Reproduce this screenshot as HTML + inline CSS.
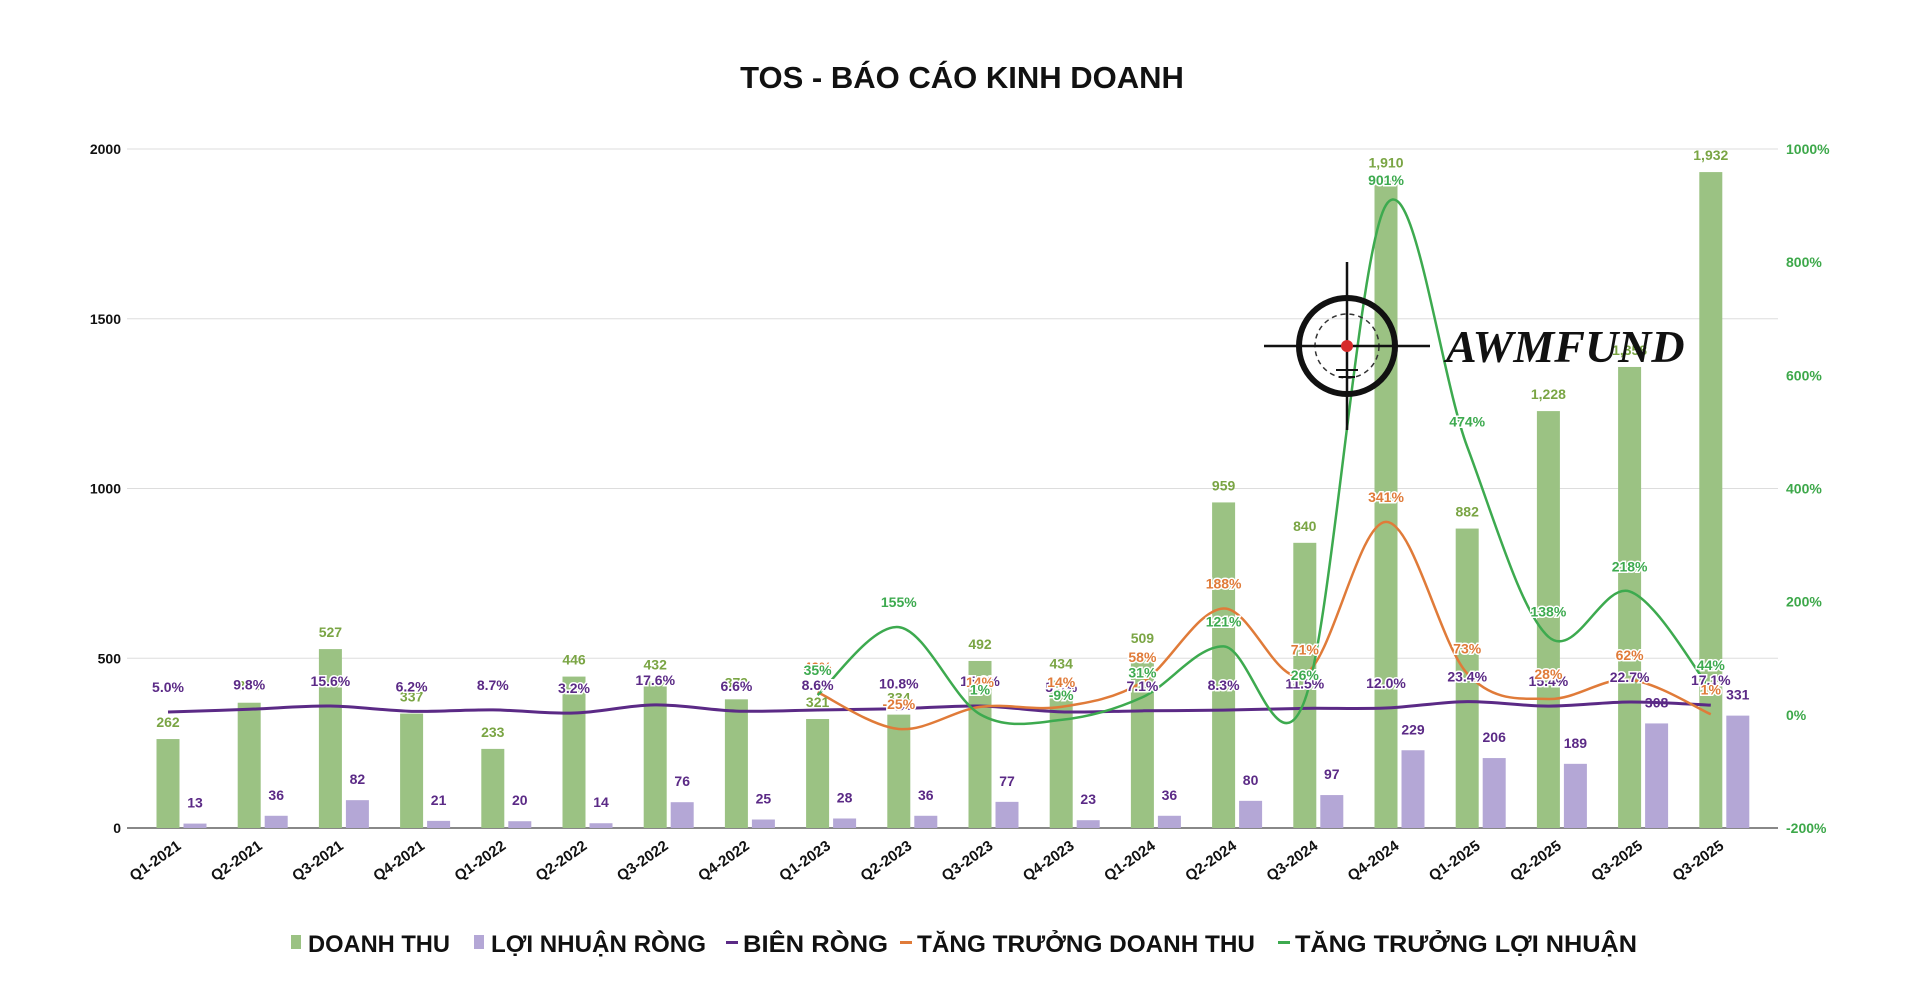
<!DOCTYPE html>
<html><head><meta charset="utf-8">
<style>
html,body{margin:0;padding:0;background:#fff;}
body{width:1920px;height:997px;overflow:hidden;font-family:"Liberation Sans","DejaVu Sans",sans-serif;}
svg text{font-family:"Liberation Sans","DejaVu Sans",sans-serif;font-weight:bold;}
</style></head>
<body>
<svg id="chart" width="1920" height="997" viewBox="0 0 1920 997" xmlns="http://www.w3.org/2000/svg">
<text x="962" y="88" text-anchor="middle" font-size="31" fill="#111">TOS - BÁO CÁO KINH DOANH</text>
<g id="grid"></g>
<g id="bars"></g>
<g id="lines"></g>
<g id="labels"></g>
<g id="axes"></g>
<g>
  <circle cx="1347" cy="346" r="48" fill="none" stroke="#111" stroke-width="6"/>
  <circle cx="1347" cy="346" r="32" fill="none" stroke="#333" stroke-width="1.5" stroke-dasharray="5,4"/>
  <line x1="1264" y1="346" x2="1430" y2="346" stroke="#111" stroke-width="2.5"/>
  <line x1="1347" y1="262" x2="1347" y2="430" stroke="#111" stroke-width="2.5"/>
  <circle cx="1347" cy="346" r="6" fill="#d62b2b"/>
  <line x1="1336" y1="370" x2="1358" y2="370" stroke="#111" stroke-width="2"/>
  <line x1="1339" y1="377" x2="1355" y2="377" stroke="#111" stroke-width="2"/>
  <text x="1446" y="362" font-style="italic" font-size="46" fill="#111" style="font-family:'Liberation Serif',serif">AWMFUND</text>
</g>
<g id="legend"></g>
</svg>
<script>
const categories=["Q1-2021","Q2-2021","Q3-2021","Q4-2021","Q1-2022","Q2-2022","Q3-2022","Q4-2022","Q1-2023","Q2-2023","Q3-2023","Q4-2023","Q1-2024","Q2-2024","Q3-2024","Q4-2024","Q1-2025","Q2-2025","Q3-2025","Q3-2025"];
const revenue=[262,369,527,337,233,446,432,379,321,334,492,434,509,959,840,1910,882,1228,1358,1932];
const profit=[13,36,82,21,20,14,76,25,28,36,77,23,36,80,97,229,206,189,308,331];
const margin=[5.0,9.8,15.6,6.2,8.7,3.2,17.6,6.6,8.6,10.8,15.6,5.3,7.1,8.3,11.5,12.0,23.4,15.4,22.7,17.1];
const revGrowth=[null,null,null,null,null,null,null,null,40,-25,14,14,58,188,71,341,73,28,62,1];
const profGrowth=[null,null,null,null,null,null,null,null,35,155,1,-9,31,121,26,901,474,138,218,44];
const leftTicks=[0,500,1000,1500,2000];
const rightTicks=[-200,0,200,400,600,800,1000];

const NS="http://www.w3.org/2000/svg";
const X0=168,STEP=81.2,YL0=828,YL1=149;
const xAt=i=>X0+i*STEP;
const yL=v=>YL0-(v/2000)*(YL0-YL1);
const yR=v=>YL0-((v+200)/1200)*(YL0-YL1);
function mk(tag,attrs,parent,txt){const e=document.createElementNS(NS,tag);for(const k in attrs)e.setAttribute(k,attrs[k]);if(txt!==undefined)e.textContent=txt;parent.appendChild(e);return e;}
const G=id=>document.getElementById(id);

leftTicks.forEach(t=>{
  const l=mk('line',{x1:127,x2:1778,y1:yL(t),y2:yL(t),stroke:t===0?'#888':'#ddd','stroke-width':t===0?2:1},G('grid'));
  
  
  const tx=mk('text',{x:121,y:yL(t)+5,'text-anchor':'end','font-size':14,fill:'#111'},G('axes'),String(t));
  
  
});
rightTicks.forEach(t=>{
  const tx=mk('text',{x:1786,y:yR(t)+5,'font-size':14,fill:'#3da84a'},G('axes'),t+'%');
  
  
});
categories.forEach((c,i)=>{
  const x=xAt(i)+14,y=848;
  const tx=mk('text',{x:x,y:y,'text-anchor':'end','font-size':15,fill:'#111',transform:`rotate(-35 ${x} ${y})`},G('axes'),c);
  
  
});
const BW=23;
revenue.forEach((v,i)=>{
  const b=mk('rect',{x:xAt(i)-BW/2,y:yL(v),width:BW,height:YL0-yL(v),fill:'#9bc283'},G('bars'));
  
  
  const t=mk('text',{x:xAt(i),y:yL(v)-12,'text-anchor':'middle','font-size':14,fill:'#7aa544'},G('labels'),v.toLocaleString('en-US'));
  
  
});
profit.forEach((v,i)=>{
  const x=xAt(i)+27;
  const b=mk('rect',{x:x-BW/2,y:yL(v),width:BW,height:YL0-yL(v),fill:'#b4a7d6'},G('bars'));
  
  
  const t=mk('text',{x:x,y:yL(v)-16,'text-anchor':'middle','font-size':14,fill:'#5b2a86'},G('labels'),String(v));
  
  
});
function smooth(pts){
  let d=`M${pts[0][0]},${pts[0][1]}`;
  for(let i=0;i<pts.length-1;i++){
    const p0=pts[i-1]||pts[i],p1=pts[i],p2=pts[i+1],p3=pts[i+2]||p2;
    const c1=[p1[0]+(p2[0]-p0[0])/6,p1[1]+(p2[1]-p0[1])/6];
    const c2=[p2[0]-(p3[0]-p1[0])/6,p2[1]-(p3[1]-p1[1])/6];
    d+=` C${c1[0]},${c1[1]} ${c2[0]},${c2[1]} ${p2[0]},${p2[1]}`;
  }
  return d;
}
function series(arr,color,w,name,fmt){
  const pts=[];arr.forEach((v,i)=>{if(v!==null)pts.push([xAt(i),yR(v),v]);});
  const p=mk('path',{d:smooth(pts),fill:'none',stroke:color,'stroke-width':w},G('lines'));
  
  
  pts.forEach(q=>{
    const t=mk('text',{x:q[0],y:q[1]-20,'text-anchor':'middle','font-size':14,fill:color,stroke:'#fff','stroke-width':3,'paint-order':'stroke'},G('labels'),fmt(q[2]));
    
    
  });
}
series(margin,'#5b2a86',3,'net-margin',v=>v.toFixed(1)+'%');
series(revGrowth,'#e07b39',2.5,'revenue-growth',v=>v+'%');
series(profGrowth,'#3daa4f',2.5,'profit-growth',v=>v+'%');

const legendItems=[["DOANH THU","#9bc283","box"],["LỢI NHUẬN RÒNG","#b4a7d6","box"],["BIÊN RÒNG","#5b2a86","line"],["TĂNG TRƯỞNG DOANH THU","#e07b39","line"],["TĂNG TRƯỞNG LỢI NHUẬN","#3daa4f","line"]];
const legendX=[291,474,726,900,1278];
const legendW=[142,215,145,338,342];
legendItems.forEach((it,i)=>{
  const g=mk('g',{},G('legend'));
  
  
  if(it[2]==='box')mk('rect',{x:legendX[i],y:935,width:10,height:14,fill:it[1]},g);
  else mk('rect',{x:legendX[i],y:941,width:12,height:3,fill:it[1]},g);
  mk('text',{x:legendX[i]+17,y:952,'font-size':24,fill:'#111',textLength:legendW[i],lengthAdjust:'spacingAndGlyphs'},g,it[0]);
});
</script>
</body></html>
